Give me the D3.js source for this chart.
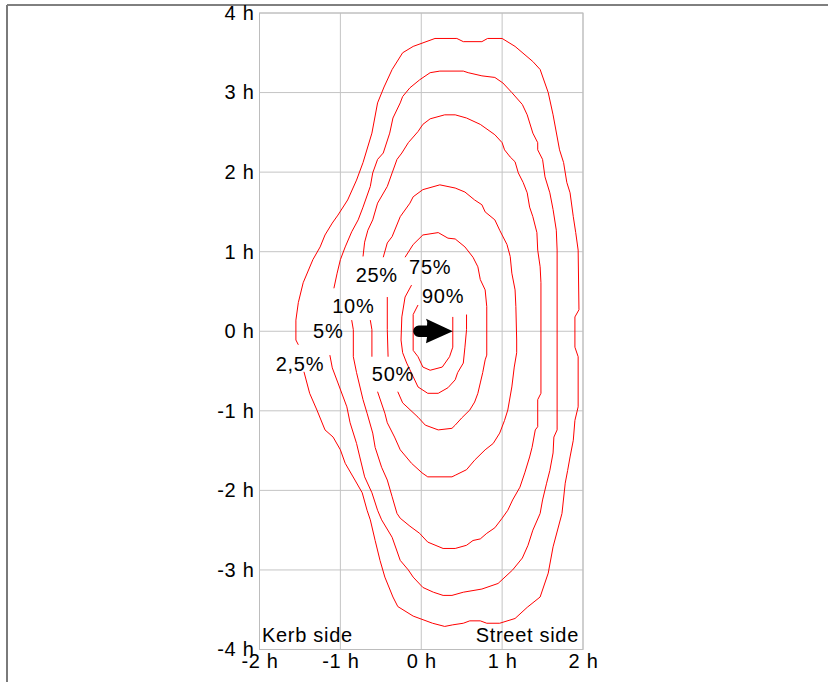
<!DOCTYPE html>
<html>
<head>
<meta charset="utf-8">
<script src="https://cdn.jsdelivr.net/npm/d3@7"></script>
<style>
  body { margin: 0; background: #fff; }
  svg text { font-family: "Liberation Sans", Arial, sans-serif; font-size: 20px; letter-spacing: 0.7px; fill: #000; }
</style>
</head>
<body>
<script>
// contour levels, label anchor (x, y in h)
const levels = ["2,5%", "5%", "10%", "25%", "50%", "75%", "90%"];
const labelX = [-1.50, -1.15, -0.84, -0.55, -0.35, 0.11, 0.27];
const labelY = [-0.50, -0.09, 0.23, 0.62, -0.63, 0.72, 0.35];

// every contour = visible pieces, points [x, y] in h (gaps are where labels sit)
const c025 = [[
  [-1.45,-0.51],[-1.38,-0.78],[-1.29,-0.99],[-1.19,-1.24],[-1.09,-1.33],[-1.00,-1.49],[-0.94,-1.66],
  [-0.82,-1.87],[-0.73,-2.03],[-0.67,-2.25],[-0.63,-2.37],[-0.57,-2.63],[-0.51,-2.88],[-0.45,-3.09],
  [-0.35,-3.34],[-0.29,-3.46],[-0.10,-3.58],[0.14,-3.67],[0.29,-3.71],[0.39,-3.69],[0.52,-3.67],
  [0.60,-3.64],[0.73,-3.64],[0.81,-3.67],[0.97,-3.67],[1.16,-3.61],[1.31,-3.47],[1.47,-3.34],
  [1.57,-3.04],[1.63,-2.71],[1.74,-2.29],[1.78,-1.91],[1.81,-1.75],[1.84,-1.58],[1.88,-1.37],
  [1.90,-1.12],[1.94,-0.95],[1.94,-0.32],[1.90,-0.20],[1.90,0.18],[1.95,0.27],[1.94,1.02],
  [1.91,1.24],[1.88,1.44],[1.84,1.74],[1.80,1.87],[1.76,2.12],[1.71,2.28],[1.63,2.72],[1.57,3.00],
  [1.47,3.29],[1.38,3.39],[1.16,3.58],[1.00,3.68],[0.82,3.68],[0.75,3.64],[0.52,3.64],[0.44,3.68],
  [0.17,3.68],[-0.10,3.58],[-0.23,3.50],[-0.36,3.29],[-0.46,3.07],[-0.54,2.87],[-0.61,2.49],
  [-0.72,2.12],[-0.80,1.90],[-0.91,1.65],[-1.03,1.46],[-1.10,1.36],[-1.19,1.21],[-1.25,1.06],
  [-1.34,0.90],[-1.46,0.61],[-1.52,0.36],[-1.55,0.14],[-1.55,-0.11],[-1.52,-0.17]
]];
const c05 = [[
  [-1.13,-0.30],[-1.10,-0.46],[-1.03,-0.65],[-0.92,-0.95],[-0.88,-1.15],[-0.80,-1.41],[-0.76,-1.58],
  [-0.70,-1.83],[-0.61,-2.03],[-0.54,-2.25],[-0.49,-2.37],[-0.36,-2.59],[-0.26,-2.88],[-0.16,-3.00],
  [-0.10,-3.09],[0.02,-3.22],[0.15,-3.28],[0.27,-3.32],[0.38,-3.32],[0.52,-3.28],[0.75,-3.24],
  [0.95,-3.17],[1.13,-3.00],[1.25,-2.85],[1.32,-2.69],[1.38,-2.50],[1.47,-2.29],[1.50,-2.12],
  [1.55,-1.91],[1.59,-1.75],[1.63,-1.53],[1.64,-1.33],[1.68,-1.24],[1.68,1.02],[1.67,1.27],
  [1.63,1.53],[1.59,1.74],[1.53,1.94],[1.50,2.16],[1.44,2.28],[1.44,2.37],[1.38,2.49],[1.31,2.72],
  [1.25,2.85],[1.12,3.00],[1.01,3.12],[0.91,3.19],[0.75,3.21],[0.58,3.25],[0.52,3.27],[0.23,3.27],
  [0.11,3.25],[-0.02,3.16],[-0.14,3.06],[-0.23,2.95],[-0.26,2.87],[-0.35,2.68],[-0.39,2.49],
  [-0.47,2.24],[-0.54,2.16],[-0.60,1.99],[-0.63,1.82],[-0.72,1.56],[-0.78,1.40],[-0.86,1.25],
  [-0.94,1.06],[-1.00,0.90],[-1.04,0.73],[-1.08,0.54]
]];
const c10 = [[
  [-0.86,0.14],[-0.84,0.02],[-0.84,-0.32],[-0.80,-0.52],[-0.72,-0.86],[-0.67,-1.03],[-0.60,-1.28],
  [-0.57,-1.46],[-0.49,-1.71],[-0.42,-1.87],[-0.36,-2.08],[-0.30,-2.29],[-0.26,-2.35],[-0.14,-2.45],
  [-0.02,-2.54],[0.08,-2.65],[0.27,-2.73],[0.42,-2.73],[0.56,-2.69],[0.64,-2.63],[0.73,-2.61],
  [0.81,-2.54],[0.91,-2.47],[1.00,-2.35],[1.07,-2.25],[1.13,-2.12],[1.22,-1.96],[1.28,-1.78],
  [1.34,-1.58],[1.37,-1.46],[1.41,-1.24],[1.44,-1.20],[1.44,-0.86],[1.48,-0.78],[1.48,0.61],
  [1.47,0.81],[1.44,1.02],[1.43,1.24],[1.38,1.44],[1.34,1.56],[1.31,1.74],[1.26,1.87],[1.20,1.99],
  [1.16,2.13],[1.10,2.19],[1.03,2.28],[1.00,2.37],[0.91,2.47],[0.73,2.60],[0.56,2.68],[0.42,2.72],
  [0.29,2.72],[0.11,2.67],[0.02,2.60],[-0.04,2.51],[-0.16,2.37],[-0.24,2.24],[-0.30,2.16],
  [-0.36,1.99],[-0.42,1.82],[-0.54,1.61],[-0.60,1.40],[-0.66,1.27],[-0.70,1.12],[-0.72,0.94]
]];
const c25 = [
  [[-0.63,0.14],[-0.61,0.02],[-0.61,-0.32]],
  [[-0.54,-0.76],[-0.45,-1.03],[-0.42,-1.15],[-0.33,-1.33],[-0.26,-1.49],[-0.12,-1.66],[0.01,-1.78],
   [0.08,-1.83],[0.38,-1.83],[0.42,-1.81],[0.56,-1.74],[0.66,-1.62],[0.79,-1.49],[0.89,-1.41],
   [0.97,-1.28],[1.03,-1.12],[1.07,-0.99],[1.12,-0.70],[1.15,-0.45],[1.18,-0.27],[1.18,-0.11],
   [1.17,0.31],[1.16,0.52],[1.12,0.73],[1.10,0.94],[1.06,1.09],[0.97,1.27],[0.91,1.40],[0.79,1.50],
   [0.75,1.59],[0.66,1.65],[0.54,1.75],[0.42,1.80],[0.23,1.84],[0.02,1.78],[-0.10,1.69],[-0.14,1.61],
   [-0.26,1.44],[-0.36,1.19],[-0.42,1.11],[-0.47,0.93]]
];
const c50 = [
  [[-0.42,0.43],[-0.42,0.02],[-0.41,-0.32]],
  [[-0.29,-0.76],[-0.23,-0.90],[-0.04,-1.08],[0.05,-1.18],[0.21,-1.24],[0.38,-1.22],[0.42,-1.18],
   [0.50,-1.09],[0.60,-0.99],[0.66,-0.89],[0.70,-0.78],[0.73,-0.65],[0.76,-0.52],[0.79,-0.36],
   [0.81,-0.30],[0.81,0.31],[0.79,0.52],[0.73,0.65],[0.70,0.81],[0.64,0.93],[0.54,1.06],[0.42,1.16],
   [0.33,1.17],[0.21,1.24],[0.02,1.21],[-0.10,1.09],[-0.20,0.93]]
];
const c75 = [[
  [-0.12,0.58],[-0.20,0.43],[-0.24,0.18],[-0.25,-0.11],[-0.23,-0.27],[-0.18,-0.40],[-0.10,-0.57],
  [-0.04,-0.70],[0.08,-0.78],[0.21,-0.78],[0.33,-0.71],[0.42,-0.61],[0.45,-0.52],[0.52,-0.40],
  [0.54,-0.20],[0.56,0.02],[0.56,0.21]
]];
const c90 = [[
  [-0.04,0.33],[-0.10,0.21],[-0.10,-0.24],[-0.04,-0.32],[0.02,-0.45],[0.11,-0.49],[0.26,-0.45],
  [0.35,-0.32],[0.39,-0.20],[0.39,0.18]
]];
const contours = [c025, c05, c10, c25, c50, c75, c90];

const xTicks = [-2, -1, 0, 1, 2];
const yTicks = [-4, -3, -2, -1, 0, 1, 2, 3, 4];
const sideLabels = ["Kerb side", "Street side"];

// direction arrow (h)
const arrowFrom = [-0.1, 0];
const arrowTo = [0.39, 0];

const width = 828;
const height = 682;

const svg = d3.select("body")
    .append("svg")
    .attr("width", width)
    .attr("height", height);

const x = d3.scaleLinear().domain([-2, 2]).range([259.5, 583]);
const y = d3.scaleLinear().domain([-4, 4]).range([649.5, 13]);

// outer frame
svg.append("line")
    .attr("x1", 7).attr("y1", 5).attr("x2", width).attr("y2", 5)
    .attr("stroke", "#000").attr("stroke-width", 1);
svg.append("line")
    .attr("x1", 7).attr("y1", 5).attr("x2", 7).attr("y2", height)
    .attr("stroke", "#7a7a7a").attr("stroke-width", 2);

// grid
svg.append("g")
    .selectAll("line")
    .data(xTicks)
    .enter()
    .append("line")
    .attr("x1", d => x(d)).attr("x2", d => x(d))
    .attr("y1", y(-4)).attr("y2", y(4))
    .attr("stroke", "#c4c4c4");

svg.append("g")
    .selectAll("line")
    .data(yTicks)
    .enter()
    .append("line")
    .attr("x1", x(-2)).attr("x2", x(2))
    .attr("y1", d => y(d)).attr("y2", d => y(d))
    .attr("stroke", "#c4c4c4");

// axes (labels only)
const yAxis = d3.axisLeft(y).tickValues(yTicks).tickFormat(d => d + " h").tickSize(0).tickPadding(5);
const xAxis = d3.axisBottom(x).tickValues(xTicks).tickFormat(d => d + " h").tickSize(0).tickPadding(4);

const gy = svg.append("g")
    .attr("transform", `translate(${x(-2)},0)`)
    .call(yAxis);
const gx = svg.append("g")
    .attr("transform", `translate(0,${y(-4)})`)
    .call(xAxis);
[gy, gx].forEach(g => {
    g.attr("font-size", null).attr("font-family", null);
    g.select(".domain").remove();
});

// contour lines
const line = d3.line()
    .x(d => x(d[0]))
    .y(d => y(d[1]));

svg.append("g")
    .selectAll("g")
    .data(contours)
    .enter()
    .append("g")
    .selectAll("path")
    .data(d => d)
    .enter()
    .append("path")
    .attr("d", line)
    .attr("fill", "none")
    .attr("stroke", "#ff0000")
    .attr("stroke-width", 1);

// contour labels
svg.append("g")
    .selectAll("text")
    .data(levels)
    .enter()
    .append("text")
    .attr("x", (d, i) => x(labelX[i]))
    .attr("y", (d, i) => y(labelY[i]))
    .attr("text-anchor", "middle")
    .text(d => d);

// arrow
const ax0 = x(arrowFrom[0]);
const ax1 = x(arrowTo[0]);
const ay = y(arrowFrom[1]);
const r = 5.7;
const hb = ax0 + (ax1 - ax0) * 0.35;
svg.append("path")
    .attr("d", `M${ax0 + r},${ay - r} L${hb},${ay - r} Q${hb + 1},${ay - 9} ${hb - 1},${ay - 12.5}
                L${ax1},${ay} L${hb - 1},${ay + 12} L${hb},${ay + r} L${ax0 + r},${ay + r}
                A${r},${r} 0 0 1 ${ax0 + r},${ay - r} Z`)
    .attr("fill", "#000");

// plot border
svg.append("rect")
    .attr("x", x(-2)).attr("y", y(4))
    .attr("width", x(2) - x(-2)).attr("height", y(-4) - y(4))
    .attr("fill", "none")
    .attr("stroke", "#bdbdbd");

// side captions
svg.append("text")
    .attr("x", x(-2) + 2.5).attr("y", y(-4) - 7.5)
    .text(sideLabels[0]);
svg.append("text")
    .attr("x", x(2) - 4).attr("y", y(-4) - 7.5)
    .attr("text-anchor", "end")
    .text(sideLabels[1]);
</script>
</body>
</html>
